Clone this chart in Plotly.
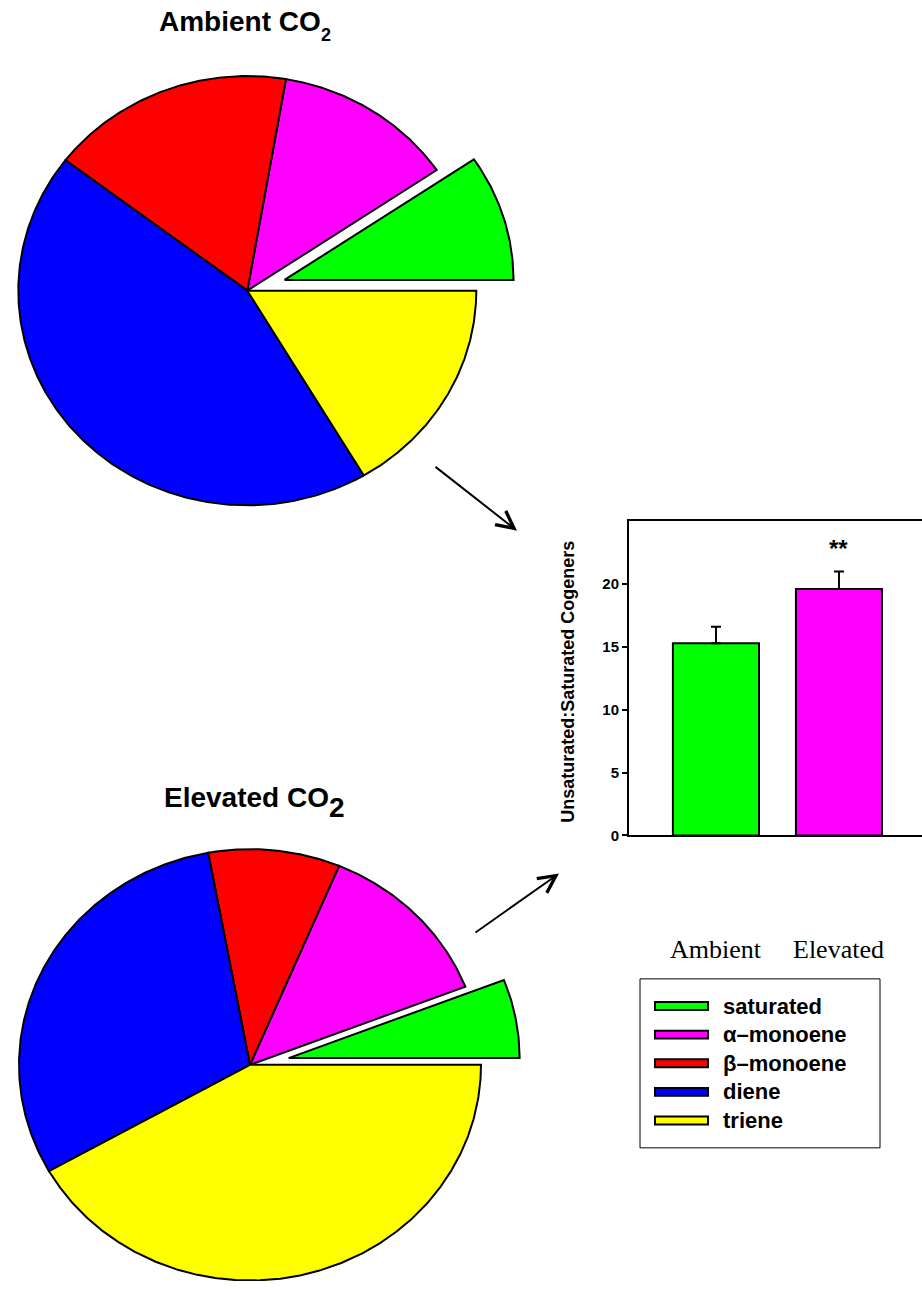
import numpy as np
import plotly.graph_objects as go

W, H = 922, 1289

# ---- data -------------------------------------------------------------
classes = ["saturated", "α–monoene", "β–monoene", "diene", "triene"]
class_colors = ["#00ff00", "#ff00ff", "#ff0000", "#0000ff", "#ffff00"]
ambient_pct = [9.5, 12.8, 17.3, 43.9, 16.5]
elevated_pct = [5.9, 12.8, 9.2, 30.3, 41.8]
slice_pull = [0.17, 0.0, 0.0, 0.0, 0.0]

groups = ["Ambient", "Elevated"]
ratio_mean = [15.3, 19.6]
ratio_se = [1.3, 1.4]
group_colors = ["#00ff00", "#ff00ff"]
y_ticks = [0, 5, 10, 15, 20]
signif_mark = "**"

FONT = "Liberation Sans, Arial, sans-serif"
SERIF = "Liberation Serif, Times New Roman, serif"


def px_x(px):
    return px / W


def px_y(py):
    return 1 - py / H


def ellipse_axes(cx, cy, rx, ry, x0, x1, y0, y1):
    """Axis pair where one data unit is rx px wide and ry px tall."""
    xa = dict(domain=[px_x(x0), px_x(x1)], range=[(x0 - cx) / rx, (x1 - cx) / rx],
              visible=False, fixedrange=True)
    ya = dict(domain=[px_y(y1), px_y(y0)], range=[(cy - y1) / ry, (cy - y0) / ry],
              visible=False, fixedrange=True)
    return xa, ya


def add_pie(fig, values, xa, ya):
    total = float(sum(values))
    start = 0.0
    for name, v, col, p in zip(classes, values, class_colors, slice_pull):
        span = 360.0 * v / total
        t = np.radians(np.linspace(start, start + span, max(int(span * 2), 12)))
        mid = np.radians(start + span / 2)
        ox, oy = p * np.cos(mid), p * np.sin(mid)
        xs = np.concatenate([[ox], ox + np.cos(t), [ox]])
        ys = np.concatenate([[oy], oy + np.sin(t), [oy]])
        fig.add_trace(go.Scatter(
            x=xs, y=ys, mode="lines", fill="toself", fillcolor=col,
            line=dict(color="black", width=2), name=name,
            xaxis=xa, yaxis=ya, showlegend=False, hoverinfo="skip"))
        start += span


fig = go.Figure()

# ---- pies ---------------------------------------------------------------
xa2, ya2 = ellipse_axes(247.3, 292.5, 229, 216, 0, 600, 45, 545)
xa3, ya3 = ellipse_axes(250.0, 1071.5, 231, 217, 0, 600, 845, 1289)
add_pie(fig, ambient_pct, "x2", "y2")
add_pie(fig, elevated_pct, "x3", "y3")

# ---- bar chart ----------------------------------------------------------
bar_x = list(range(len(groups)))
fig.add_trace(go.Bar(
    x=bar_x, y=ratio_mean, width=0.7,
    marker=dict(color=group_colors, line=dict(color="black", width=2)),
    error_y=dict(type="data", array=ratio_se, arrayminus=[0] * len(groups),
                 symmetric=False, color="black", thickness=2, width=5),
    showlegend=False, hoverinfo="skip"))

annotations = []
shapes = []

annotations.append(dict(
    x=bar_x[1], y=22.8, xref="x", yref="y", text=signif_mark, showarrow=False,
    font=dict(family=FONT, size=24, color="black", weight="bold")))

for xi, g in zip(bar_x, groups):
    annotations.append(dict(
        x=xi, y=px_y(955), xref="x", yref="paper", text=g, showarrow=False,
        yanchor="middle", font=dict(family=SERIF, size=26, color="black")))

annotations.append(dict(
    x=px_x(568), y=px_y(686), xref="paper", yref="paper",
    text="Unsaturated:Saturated Cogeners", textangle=-90, showarrow=False,
    font=dict(family=FONT, size=18, color="black", weight="bold")))

# ---- titles -------------------------------------------------------------
annotations += [
    dict(x=px_x(323), y=px_y(22), xref="paper", yref="paper", text="Ambient CO",
         xanchor="right", yanchor="middle", showarrow=False,
         font=dict(family=FONT, size=28, color="black", weight="bold")),
    dict(x=px_x(319), y=px_y(35), xref="paper", yref="paper", text="2",
         xanchor="left", yanchor="middle", showarrow=False,
         font=dict(family=FONT, size=18, color="black", weight="bold")),
    dict(x=px_x(331), y=px_y(802), xref="paper", yref="paper", text="Elevated CO",
         xanchor="right", yanchor="middle", showarrow=False,
         font=dict(family=FONT, size=28, color="black", weight="bold")),
    dict(x=px_x(327), y=px_y(813), xref="paper", yref="paper", text="2",
         xanchor="left", yanchor="middle", showarrow=False,
         font=dict(family=FONT, size=28, color="black", weight="bold")),
]

# ---- arrows -------------------------------------------------------------
for (hx, hy), (tx, ty) in [((517, 534), (434, 469)), ((559, 879), (474, 939))]:
    annotations.append(dict(
        x=px_x(hx), y=px_y(hy), xref="paper", yref="paper",
        ax=tx - hx, ay=ty - hy, axref="pixel", ayref="pixel", text="",
        showarrow=True, arrowhead=5, arrowsize=1.7, arrowwidth=2,
        arrowcolor="black"))

# ---- legend -------------------------------------------------------------
shapes.append(dict(type="rect", xref="paper", yref="paper",
                   x0=px_x(640), x1=px_x(880), y0=px_y(1155), y1=px_y(985),
                   line=dict(color="black", width=1), fillcolor="white"))
for i, (name, col) in enumerate(zip(classes, class_colors)):
    yc = 1012.3 + i * 28.8
    shapes.append(dict(type="rect", xref="paper", yref="paper",
                       x0=px_x(655), x1=px_x(708), y0=px_y(yc + 4), y1=px_y(yc - 4),
                       line=dict(color="black", width=2), fillcolor=col))
    annotations.append(dict(
        x=px_x(721), y=px_y(yc), xref="paper", yref="paper", text=name,
        xanchor="left", yanchor="middle", showarrow=False,
        font=dict(family=FONT, size=22, color="black", weight="bold")))

fig.update_layout(
    width=W, height=H, margin=dict(l=0, r=0, t=0, b=0),
    paper_bgcolor="white", plot_bgcolor="rgba(0,0,0,0)",
    showlegend=False,
    xaxis=dict(domain=[px_x(629), 1.0], range=[-0.707, 1.675],
               showline=True, linecolor="black", linewidth=2, mirror=True,
               showticklabels=False, ticks="", showgrid=False, zeroline=False,
               fixedrange=True),
    yaxis=dict(domain=[px_y(840.7), px_y(524.5)], range=[0, 25],
               showline=True, linecolor="black", linewidth=2,
               ticks="outside", ticklen=5, tickwidth=2, tickcolor="black",
               tickvals=y_ticks, showgrid=False, zeroline=False,
               tickfont=dict(family=FONT, size=15, color="black", weight="bold"),
               fixedrange=True),
    xaxis2=xa2, yaxis2=ya2, xaxis3=xa3, yaxis3=ya3,
    annotations=annotations, shapes=shapes,
)

fig.write_html("out.html")
